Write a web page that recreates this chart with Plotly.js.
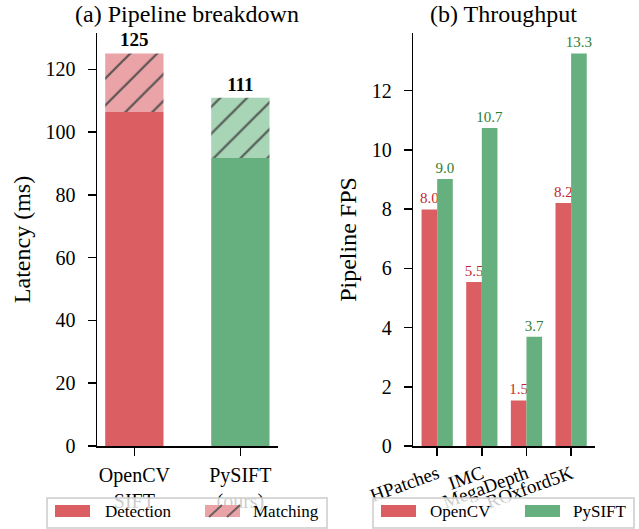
<!DOCTYPE html>
<html>
<head>
<meta charset="utf-8">
<script src="https://cdn.plot.ly/plotly-3.0.1.min.js"></script>
<style>html,body{margin:0;padding:0;background:#fff;}#chart{width:639px;height:529px;}</style>
</head>
<body>
<div id="chart"></div>
<script>
// ---- data ----
const methods = ["OpenCV<br>SIFT", "PySIFT<br>(ours)"];
const detectionMs = [106.4, 91.8];
const matchingMs = [18.7, 19.2];
const datasets = ["HPatches", "IMC", "MegaDepth", "ROxford5K"];
const fpsOpenCV = [7.99, 5.54, 1.54, 8.21];
const fpsPySIFT = [9.02, 10.74, 3.69, 13.26];
const totalsMs = detectionMs.map((d, i) => d + matchingMs[i]);

// ---- style ----
const FONT = "Liberation Serif, Times New Roman, serif";
const RED = "#DB5E63", GREEN = "#65B07E";
const RED_L = "#EAA3A6", GREEN_L = "#A8D5B6";
const W = 639, H = 529;
const px = x => x / W, py = y => 1 - y / H;

const traces = [
  {type: "bar", x: methods, y: detectionMs, xaxis: "x", yaxis: "y",
   width: 0.55, offset: -0.275, marker: {color: [RED, GREEN], line: {width: 0}},
   showlegend: false, hoverinfo: "skip"},
  {type: "bar", x: methods, y: matchingMs, base: detectionMs, xaxis: "x", yaxis: "y",
   width: 0.55, offset: -0.275,
   marker: {color: [RED_L, GREEN_L], line: {width: 0},
            pattern: {shape: "/", fillmode: "overlay", size: 19, solidity: 0.12, fgcolor: "#555555", fgopacity: 0.85}},
   text: totalsMs.map(v => Math.round(v).toString()), textposition: "outside", cliponaxis: false,
   constraintext: "none",
   textfont: {family: FONT, size: 19, color: "#000", weight: "bold"},
   showlegend: false, hoverinfo: "skip"},
  {type: "bar", x: datasets, y: fpsOpenCV, xaxis: "x2", yaxis: "y2",
   width: 0.35, offset: -0.35, marker: {color: RED, line: {width: 0}},
   text: fpsOpenCV.map(v => v.toFixed(1)), textposition: "outside", cliponaxis: false,
   constraintext: "none",
   textfont: {family: FONT, size: 15, color: "#C0282E"},
   showlegend: false, hoverinfo: "skip"},
  {type: "bar", x: datasets, y: fpsPySIFT, xaxis: "x2", yaxis: "y2",
   width: 0.35, offset: 0, marker: {color: GREEN, line: {width: 0}},
   text: fpsPySIFT.map(v => v.toFixed(1)), textposition: "outside", cliponaxis: false,
   constraintext: "none",
   textfont: {family: FONT, size: 15, color: "#2E7D32"},
   showlegend: false, hoverinfo: "skip"}
];

const axisCommon = {
  showline: true, linecolor: "#000", linewidth: 1.5, mirror: false,
  ticks: "outside", ticklen: 8, tickwidth: 1.5, tickcolor: "#000",
  showgrid: false, zeroline: false,
  tickfont: {family: FONT, size: 20, color: "#000"}
};

const shapes = [];
const annotations = [];
function legendBox(x0, x1) {
  shapes.push({type: "rect", xref: "paper", yref: "paper", layer: "above",
    x0: px(x0), x1: px(x1), y0: py(528), y1: py(498),
    fillcolor: "rgba(255,255,255,0.8)", line: {color: "#cccccc", width: 1.5}});
}
function swatch(x0, color) {
  shapes.push({type: "rect", xref: "paper", yref: "paper", layer: "above",
    x0: px(x0), x1: px(x0 + 35), y0: py(517), y1: py(505),
    fillcolor: color, line: {width: 0}});
}
function label(x, txt) {
  annotations.push({xref: "paper", yref: "paper", x: px(x), y: py(511), xanchor: "left", yanchor: "middle",
    text: txt, showarrow: false, font: {family: FONT, size: 17, color: "#000"}});
}
legendBox(47, 327);
swatch(55, RED); label(103, "Detection");
swatch(205, RED_L); label(251, "Matching");
[[209, 222], [227, 240]].forEach(([a, b]) => shapes.push({type: "line", xref: "paper", yref: "paper", layer: "above",
  x0: px(a), x1: px(b), y0: py(517), y1: py(505), line: {color: "rgba(85,85,85,0.85)", width: 2}}));
legendBox(373, 634);
swatch(381, RED); label(428, "OpenCV");
swatch(525, GREEN); label(571, "PySIFT");

annotations.push({xref: "paper", yref: "paper", x: px(187), y: py(14), xanchor: "center", yanchor: "middle",
  text: "(a) Pipeline breakdown", showarrow: false, font: {family: FONT, size: 24, color: "#000"}});
annotations.push({xref: "paper", yref: "paper", x: px(504), y: py(14), xanchor: "center", yanchor: "middle",
  text: "(b) Throughput", showarrow: false, font: {family: FONT, size: 24, color: "#000"}});

const layout = {
  width: W, height: H,
  margin: {l: 0, r: 0, t: 0, b: 0},
  paper_bgcolor: "#fff", plot_bgcolor: "#fff",
  barmode: "group",
  font: {family: FONT, color: "#000"},
  xaxis: Object.assign({}, axisCommon, {domain: [px(97), px(277.7)], anchor: "y", type: "category",
    range: [-0.3525, 1.3525], ticklabelstandoff: 2}),
  yaxis: Object.assign({}, axisCommon, {domain: [py(446), py(33)], anchor: "x",
    range: [0, 131.6], dtick: 20, ticklabelstandoff: 8,
    title: {text: "Latency (ms)", font: {family: FONT, size: 24, color: "#000"}, standoff: 8}}),
  xaxis2: Object.assign({}, axisCommon, {domain: [px(413.3), px(595)], anchor: "y2", type: "category",
    range: [-0.535, 3.535], tickangle: -20, tickfont: {family: FONT, size: 19, color: "#000"}}),
  yaxis2: Object.assign({}, axisCommon, {domain: [py(446), py(33)], anchor: "x2",
    range: [0, 13.95], dtick: 2, ticklabelstandoff: 8,
    title: {text: "Pipeline FPS", font: {family: FONT, size: 24, color: "#000"}, standoff: 8}}),
  shapes: shapes,
  annotations: annotations
};

Plotly.newPlot("chart", traces, layout, {displayModeBar: false, staticPlot: true});
</script>
</body>
</html>
